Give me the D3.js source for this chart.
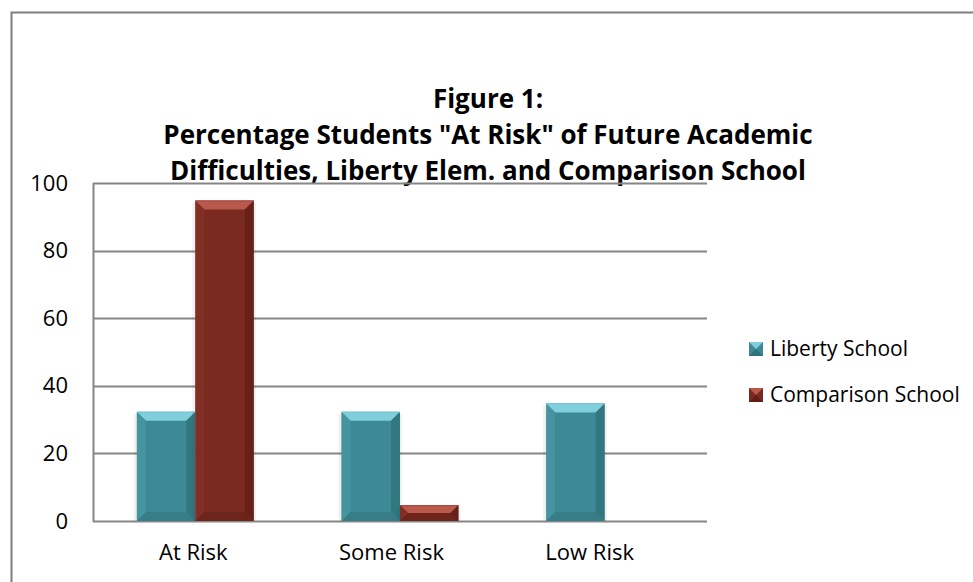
<!DOCTYPE html>
<html>
<head>
<meta charset="utf-8">
<script src="https://cdn.jsdelivr.net/npm/d3@7"></script>
<style>
  body { margin: 0; background: #fff; }
  svg { display: block; font-family: "Open Sans", "Noto Sans", sans-serif; }
</style>
</head>
<body>
<div id="chart"></div>
<script>
// chart data
const categories = ['At Risk', 'Some Risk', 'Low Risk'];
const seriesNames = ['Liberty School', 'Comparison School'];
const libertyValues = [32.3, 32.3, 34.8];
const comparisonValues = [94.8, 4.7, 0];
const yTicks = [0, 20, 40, 60, 80, 100];
const titleLines = ['Figure 1:', 'Percentage Students "At Risk" of Future Academic', 'Difficulties, Liberty Elem. and Comparison School'];

const width = 973, height = 582;
const margin = {top: 183, right: 266, bottom: 61, left: 93}; // plot area 93..707, 183..521
const plotW = width - margin.left - margin.right;
const plotH = height - margin.top - margin.bottom;
const fontFam = '"Open Sans", "Noto Sans", sans-serif';

// base / light / dark tones for the bevelled bars
const palette = {
  'Liberty School': {base: '#3d8995', light: '#74c6d3', top: '#7fd0dc', dark: '#2a6670', side: '#4a98a4'},
  'Comparison School': {base: '#7a2a20', light: '#a44a3e', top: '#b9594c', dark: '#561a13', side: '#843127'}
};

const svg = d3.select('#chart').append('svg')
    .attr('width', width)
    .attr('height', height);

// outer chart border (runs off the right and bottom edges)
svg.append('rect')
    .attr('x', 11.5).attr('y', 12.5)
    .attr('width', 1000).attr('height', 700)
    .attr('fill', 'none')
    .attr('stroke', '#7f7f7f')
    .attr('stroke-width', 2);

// title
svg.append('g').selectAll('text')
    .data(titleLines)
    .enter().append('text')
    .attr('x', 488)
    .attr('y', (d, i) => 108 + i * 36)
    .attr('text-anchor', 'middle')
    .style('font-size', '26px')
    .style('font-weight', 'bold')
    .style('fill', '#000')
    .text(d => d);

const g = svg.append('g')
    .attr('transform', 'translate(' + margin.left + ',' + margin.top + ')');

const scaleX = d3.scaleBand().domain(categories).range([0, plotW]);
const scaleY = d3.scaleLinear().domain([0, 100]).range([plotH, 0]);
const scaleSeries = d3.scaleBand().domain(seriesNames)
    .range([0, scaleX.bandwidth()])
    .paddingInner(0)
    .paddingOuter(0.75);

// gridlines
g.append('g').selectAll('line')
    .data(yTicks)
    .enter().append('line')
    .attr('x1', 0).attr('x2', plotW)
    .attr('y1', d => Math.round(scaleY(d)) + 0.5)
    .attr('y2', d => Math.round(scaleY(d)) + 0.5)
    .attr('stroke', '#868686')
    .attr('stroke-width', 2);

// y axis line + labels
g.append('line')
    .attr('x1', 0.5).attr('x2', 0.5)
    .attr('y1', scaleY(100)).attr('y2', scaleY(0) + 1)
    .attr('stroke', '#868686')
    .attr('stroke-width', 2);

const yAxis = d3.axisLeft(scaleY).tickValues(yTicks).tickSize(0).tickPadding(25);
g.append('g').call(yAxis)
    .call(a => a.select('.domain').remove())
    .selectAll('text')
    .style('font-family', fontFam)
    .style('font-size', '22px')
    .style('fill', '#000');

// x axis labels (Excel nudges them slightly left of the group centres)
const xAxis = d3.axisBottom(scaleX).tickSize(0).tickPadding(23);
g.append('g')
    .attr('transform', 'translate(0,' + plotH + ')')
    .call(xAxis)
    .call(a => a.select('.domain').remove())
    .selectAll('text')
    .attr('dx', (d, i) => -2 - 6.5 * i)
    .style('font-family', fontFam)
    .style('font-size', '22px')
    .style('fill', '#000');

// build bar rows
const rows = [];
categories.forEach((c, i) => {
  rows.push({cat: c, name: seriesNames[0], value: libertyValues[i]});
  rows.push({cat: c, name: seriesNames[1], value: comparisonValues[i]});
});

// bevelled bar
function drawBar(sel, d) {
  if (d.value <= 0) return;
  const x0 = scaleX(d.cat) + scaleSeries(d.name);
  const x1 = x0 + scaleSeries.bandwidth();
  const y0 = scaleY(d.value);
  const y1 = scaleY(0);
  const b = Math.min(9, (y1 - y0) / 2, (x1 - x0) / 2);
  const c = palette[d.name];
  // soft shadow
  sel.append('rect')
      .attr('x', x0 - 3).attr('y', y0 + 2)
      .attr('width', x1 - x0 + 5).attr('height', y1 - y0 - 2)
      .attr('fill', '#000').attr('opacity', 0.06);
  sel.append('rect')
      .attr('x', x0).attr('y', y0)
      .attr('width', x1 - x0).attr('height', y1 - y0)
      .attr('fill', c.base);
  const poly = (pts, fill, op) => sel.append('polygon')
      .attr('points', pts.map(p => p.join(',')).join(' '))
      .attr('fill', fill).attr('opacity', op);
  poly([[x0, y0], [x1, y0], [x1 - b, y0 + b], [x0 + b, y0 + b]], c.top, 1);
  poly([[x0, y0], [x0 + b, y0 + b], [x0 + b, y1 - b], [x0, y1]], c.side, 0.7);
  poly([[x1, y0], [x1, y1], [x1 - b, y1 - b], [x1 - b, y0 + b]], c.dark, 0.55);
  poly([[x0, y1], [x0 + b, y1 - b], [x1 - b, y1 - b], [x1, y1]], c.dark, 0.35);
  sel.append('line')
      .attr('x1', x0).attr('x2', x1).attr('y1', y0 + 0.5).attr('y2', y0 + 0.5)
      .attr('stroke', c.light).attr('stroke-width', 1);
}

const bars = g.append('g');
rows.forEach(d => drawBar(bars.append('g'), d));

// legend
const legend = svg.append('g').attr('transform', 'translate(749,342)');
seriesNames.forEach((name, i) => {
  const item = legend.append('g').attr('transform', 'translate(0,' + i * 46 + ')');
  const c = palette[name];
  item.append('rect').attr('width', 14).attr('height', 14).attr('fill', c.base);
  item.append('polygon').attr('points', '0,0 14,0 7,7').attr('fill', c.top);
  item.append('polygon').attr('points', '0,14 14,14 7,7').attr('fill', c.dark).attr('opacity', 0.7);
  item.append('text')
      .attr('x', 21).attr('y', 7)
      .attr('dy', '0.35em')
      .style('font-size', '21px')
      .style('fill', '#000')
      .text(name);
});
</script>
</body>
</html>
